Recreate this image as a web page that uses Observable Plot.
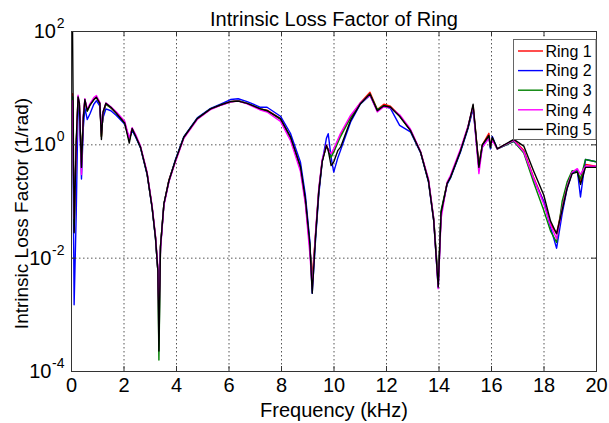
<!DOCTYPE html>
<html><head><meta charset="utf-8">
<script src="https://cdn.jsdelivr.net/npm/d3@7"></script>
<script src="https://cdn.jsdelivr.net/npm/@observablehq/plot@0.6"></script>
<style>
body{margin:0;background:#fff;}
#chart{position:relative;width:609px;height:423px;}
svg{overflow:visible}
</style></head><body><div id="chart"></div>
<script>
const freq = [0.04,0.1,0.18,0.25,0.3,0.38,0.45,0.51,0.6,0.7,
 0.85,0.95,1.08,1.14,1.2,1.31,1.5,1.71,2.03,2.2,
 2.31,2.45,2.63,2.88,3.07,3.2,3.29,3.33,3.39,3.52,
 3.71,3.96,4.28,4.79,5.3,5.7,6.06,6.35,6.69,7.2,
 7.45,7.96,8.34,8.72,8.91,9.08,9.17,9.3,9.42,9.55,
 9.71,9.78,9.89,9.99,10.15,10.25,10.63,11.0,11.37,11.65,
 11.9,12.15,12.5,12.91,13.3,13.6,13.8,13.97,14.08,14.31,
 14.44,14.82,15.1,15.3,15.52,15.65,15.9,15.96,16.03,16.22,
 16.85,17.23,17.6,17.99,18.25,18.48,18.69,18.88,19.07,19.27,
 19.39,19.58,20.0];

const ring1 = [8,0.03,1.0,6.5,5,0.45,3,6,4,5,
 6.3,6.9,5.4,1.4,3.5,5.2,4.5,3.6,2.4,1.2,
 1.9,1.4,0.9,0.31,0.08,0.023,0.006,0.0013,0.016,0.09,
 0.24,0.53,1.36,2.9,4.3,5.1,5.8,6.0,5.4,4.3,
 4.1,2.9,1.36,0.4,0.1,0.016,0.0046,0.027,0.15,0.52,
 0.95,0.85,0.71,0.75,1.2,1.5,3.1,5.5,8.5,4.2,
 5.2,4.8,3.3,1.8,0.74,0.23,0.046,0.0035,0.063,0.21,
 0.27,0.79,2.0,4.9,0.45,1.0,1.6,0.95,1.3,0.85,
 1.2,0.8,0.27,0.1,0.04,0.027,0.08,0.18,0.33,0.35,
 0.22,0.45,0.42];

const ring2 = [7,0.0015,0.06,5,4,0.25,2,4.5,2.8,3.5,
 5.2,6,4.8,1.8,3,4.3,4,3.3,2.3,1.3,
 1.8,1.35,0.88,0.3,0.078,0.022,0.006,0.0014,0.015,0.09,
 0.23,0.55,1.4,3,4.4,5.3,6.3,6.5,5.8,4.6,
 4.6,3.2,1.6,0.5,0.13,0.02,0.0024,0.022,0.13,0.5,
 1.3,1.57,0.6,0.33,0.6,0.8,2.5,5.2,7.5,4.0,
 4.8,4.4,2.2,1.7,0.72,0.22,0.045,0.003,0.063,0.2,
 0.26,0.75,1.9,4.3,0.4,0.9,1.4,0.85,1.4,0.85,
 1.15,0.75,0.25,0.1,0.035,0.015,0.06,0.17,0.32,0.35,
 0.12,0.55,0.5];

const ring3 = [7,0.04,1.0,7,5,0.5,3,6.3,3.9,5,
 6.3,6.9,5.4,1.4,3.5,5.2,4.5,3.6,2.4,1.2,
 1.9,1.4,0.9,0.31,0.08,0.023,0.006,0.00016,0.016,0.09,
 0.23,0.53,1.36,2.9,4.3,5.1,5.7,6.0,5.4,4.3,
 4.0,2.8,1.3,0.38,0.1,0.016,0.0035,0.027,0.16,0.52,
 0.95,0.8,0.6,0.75,1.1,1.4,3.0,5.3,7.9,4.2,
 4.9,4.6,3.2,1.8,0.74,0.23,0.05,0.004,0.07,0.21,
 0.27,0.79,2.0,4.7,0.4,1.0,1.4,0.9,1.3,0.85,
 1.15,0.72,0.22,0.07,0.03,0.019,0.1,0.22,0.35,0.34,
 0.25,0.55,0.5];

const ring4 = [6,0.05,0.8,7.5,5.5,0.3,3.5,6.5,4.2,5.3,
 6.8,7.4,5.6,1.6,3.8,5.5,4.7,3.8,2.6,1.3,
 2.0,1.5,0.95,0.33,0.085,0.025,0.007,0.0008,0.014,0.085,
 0.22,0.5,1.3,2.8,4.2,5.0,5.7,5.9,5.3,4.1,
 3.8,2.6,1.2,0.34,0.09,0.012,0.003,0.03,0.17,0.55,
 1.0,0.8,0.7,0.85,1.25,1.6,3.3,5.5,7.6,3.8,
 4.7,4.5,3.4,1.9,0.76,0.25,0.05,0.0029,0.05,0.22,
 0.29,0.85,2.1,4.8,0.31,0.9,1.3,0.95,1.2,0.85,
 1.2,0.75,0.26,0.09,0.038,0.022,0.075,0.18,0.33,0.38,
 0.3,0.42,0.42];

const ring5 = [100,0.028,1.2,7,5.5,0.4,3,6.3,4,5,
 6.3,6.9,5.4,1.24,3.8,5.4,4.6,3.6,2.4,1.07,
 1.94,1.4,0.91,0.31,0.079,0.023,0.006,0.00023,0.016,0.091,
 0.23,0.53,1.36,2.9,4.3,5.1,5.8,5.9,5.4,4.3,
 4.0,2.9,1.4,0.42,0.11,0.018,0.0024,0.025,0.15,0.5,
 0.98,0.8,0.43,0.5,0.8,0.91,2.7,5.3,7.9,4.0,
 4.9,4.6,3.2,1.8,0.74,0.23,0.046,0.0031,0.063,0.21,
 0.27,0.79,2.0,5.2,0.4,1.0,1.46,0.91,1.36,0.85,
 1.25,0.95,0.35,0.13,0.045,0.027,0.07,0.17,0.31,0.33,
 0.2,0.4,0.4];

const seriesNames = ["Ring 1", "Ring 2", "Ring 3", "Ring 4", "Ring 5"];
const seriesColors = ["#ff0000", "#0000ff", "#008000", "#ff00ff", "#000000"];
const xTicks = [0, 2, 4, 6, 8, 10, 12, 14, 16, 18, 20];
const yTicks = [1e2, 1, 1e-2, 1e-4];
const yExponents = ["2", "0", "-2", "-4"];
const titleText = "Intrinsic Loss Factor of Ring";
const xLabel = "Frequency (kHz)";
const yLabel = "Intrinsic Loss Factor (1/rad)";

const allRings = [ring1, ring2, ring3, ring4, ring5];
const rows = [];
allRings.forEach((vals, i) => vals.forEach((v, j) => {
  if (freq[j] !== undefined) rows.push({ring: seriesNames[i], f: freq[j], v});
}));
const yTickData = yTicks.map((v, i) => ({v, e: yExponents[i]}));

const font = "'Liberation Sans', Arial, sans-serif";
const W = 609, H = 423, ML = 71, MR = 13, MT = 31, MB = 52;
const FW = W - ML - MR, FH = H - MT - MB;
const axisColor = "#333";

const plot = Plot.plot({
  width: W, height: H,
  marginLeft: ML, marginRight: MR, marginTop: MT, marginBottom: MB,
  x: {domain: [0, 20], axis: null},
  y: {type: "log", domain: [1e-4, 1e2], axis: null},
  color: {domain: seriesNames, range: seriesColors},
  style: {fontFamily: font, background: "#fff", color: "#000", overflow: "visible"},
  marks: [
    Plot.ruleX(xTicks.slice(1, -1), {x: d => d, stroke: "#555", strokeDasharray: "1.5,2.5", strokeWidth: 1}),
    Plot.ruleY([1, 1e-2], {y: d => d, stroke: "#555", strokeDasharray: "1.5,2.5", strokeWidth: 1}),
    Plot.line(rows, {x: "f", y: "v", z: "ring", stroke: "ring", strokeWidth: 1.4, clip: true}),
    Plot.ruleX(xTicks, {x: d => d, insetTop: FH - 5, stroke: axisColor}),
    Plot.ruleX(xTicks, {x: d => d, insetBottom: FH - 5, stroke: axisColor}),
    Plot.ruleY(yTicks, {y: d => d, insetRight: FW - 5, stroke: axisColor}),
    Plot.ruleY(yTicks, {y: d => d, insetLeft: FW - 5, stroke: axisColor}),
    Plot.frame({stroke: axisColor, strokeWidth: 1}),
    Plot.text(xTicks, {x: d => d, frameAnchor: "bottom", lineAnchor: "top", dy: 6, text: d => String(d), fontSize: 20, fill: "#000"}),
    Plot.text(yTickData, {y: "v", frameAnchor: "left", dx: -7, dy: -8, textAnchor: "end", lineAnchor: "middle", text: "e", fontSize: 14, fill: "#000"}),
    Plot.text(yTickData.filter(d => !d.e.startsWith("-")), {y: "v", frameAnchor: "left", dx: -7 - 8.5, textAnchor: "end", lineAnchor: "middle", text: () => "10", fontSize: 20, fill: "#000"}),
    Plot.text(yTickData.filter(d => d.e.startsWith("-")), {y: "v", frameAnchor: "left", dx: -7 - 13, textAnchor: "end", lineAnchor: "middle", text: () => "10", fontSize: 20, fill: "#000"}),
    Plot.text([titleText], {frameAnchor: "top", lineAnchor: "bottom", dy: -6, text: d => d, fontSize: 20, fill: "#000"}),
    Plot.text([xLabel], {frameAnchor: "bottom", lineAnchor: "top", dy: 31, text: d => d, fontSize: 20, fill: "#000"}),
    Plot.text([yLabel], {frameAnchor: "left", textAnchor: "middle", lineAnchor: "middle", rotate: -90, dx: -50, dy: 12, text: d => d, fontSize: 19, fill: "#000"})
  ]
});

// legend
const svg = d3.select(plot);
const lg = svg.append("g").attr("font-family", font).attr("text-anchor", "start");
lg.append("rect").attr("x", 513.5).attr("y", 39.5).attr("width", 82.5).attr("height", 100)
  .attr("fill", "#fff").attr("stroke", "#666").attr("stroke-width", 1);
seriesNames.forEach((name, i) => {
  const cy = 51 + i * 19.6;
  lg.append("line").attr("x1", 518).attr("x2", 543).attr("y1", cy).attr("y2", cy)
    .attr("stroke", seriesColors[i]).attr("stroke-width", 1.4);
  lg.append("text").attr("x", 545.5).attr("y", cy + 5.8).attr("font-size", 16)
    .attr("text-anchor", "start").attr("fill", "#000").text(name);
});

document.getElementById("chart").appendChild(plot);
</script></body></html>
